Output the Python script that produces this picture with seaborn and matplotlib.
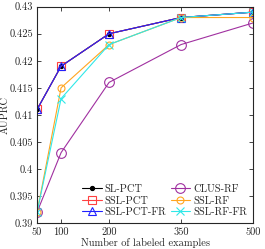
import pandas as pd
import seaborn as sns
import matplotlib.pyplot as plt

labeled = [50, 100, 200, 350, 500]

sl_pct = [0.411, 0.419, 0.425, 0.428, 0.429]
ssl_pct = [0.411, 0.419, 0.425, 0.428, 0.429]
ssl_pct_fr = [0.411, 0.419, 0.425, 0.428, 0.429]
clus_rf = [0.392, 0.403, 0.416, 0.423, 0.427]
ssl_rf = [0.392, 0.415, 0.423, 0.428, 0.428]
ssl_rf_fr = [0.392, 0.413, 0.423, 0.428, 0.429]

names = ["SL-PCT", "SSL-PCT", "SSL-PCT-FR", "CLUS-RF", "SSL-RF", "SSL-RF-FR"]
series = [sl_pct, ssl_pct, ssl_pct_fr, clus_rf, ssl_rf, ssl_rf_fr]
y_ticks = [0.39, 0.395, 0.4, 0.405, 0.41, 0.415, 0.42, 0.425, 0.43]
y_labels = ["0.39", "0.395", "0.4", "0.405", "0.41", "0.415", "0.42", "0.425", "0.43"]

colors = ["black", "#ff4040", "#2020ff", "#a030a0", "#ffa520", "#30e8e8"]
markers = ["o", "s", "^", "o", "o", "x"]
sizes = [3, 6, 6, 7, 5, 6]
fills = [True, False, False, False, False, False]

sns.set_style("ticks")
plt.rcParams["font.family"] = ["cmr10", "DejaVu Serif"]
plt.rcParams["mathtext.fontset"] = "cm"

fig = plt.figure(figsize=(2.65, 2.49), dpi=100)
ax = fig.add_axes([0.14, 0.105, 0.815, 0.868])

for name, vals, c, m, s, f in zip(names, series, colors, markers, sizes, fills):
    df = pd.DataFrame({"x": labeled, "y": vals})
    sns.lineplot(data=df, x="x", y="y", ax=ax, color=c, marker=m, markersize=s,
                 markerfacecolor=c if f else "none", markeredgecolor=c,
                 markeredgewidth=0.8, linewidth=0.8, label=name)

ax.set_xlim(50, 500)
ax.set_ylim(0.39, 0.43)
ax.set_xticks(labeled)
ax.set_xticklabels([str(v) for v in labeled], fontsize=7.5)
ax.set_yticks(y_ticks)
ax.set_yticklabels(y_labels, fontsize=7.5)
ax.tick_params(direction="in", top=True, right=True, length=3, width=0.6, pad=3)
for sp in ax.spines.values():
    sp.set_linewidth(0.8)
ax.set_xlabel("Number of labeled examples", fontsize=7.5, labelpad=1)
ax.set_ylabel("AUPRC", fontsize=7.5, labelpad=0)

ax.legend(ncol=2, loc="lower right", frameon=False, fontsize=7.5,
          handlelength=1.9, columnspacing=0.4, labelspacing=0.2,
          borderaxespad=0.15, handletextpad=0.3)

fig.savefig("out.png", dpi=100)
plt.close(fig)
